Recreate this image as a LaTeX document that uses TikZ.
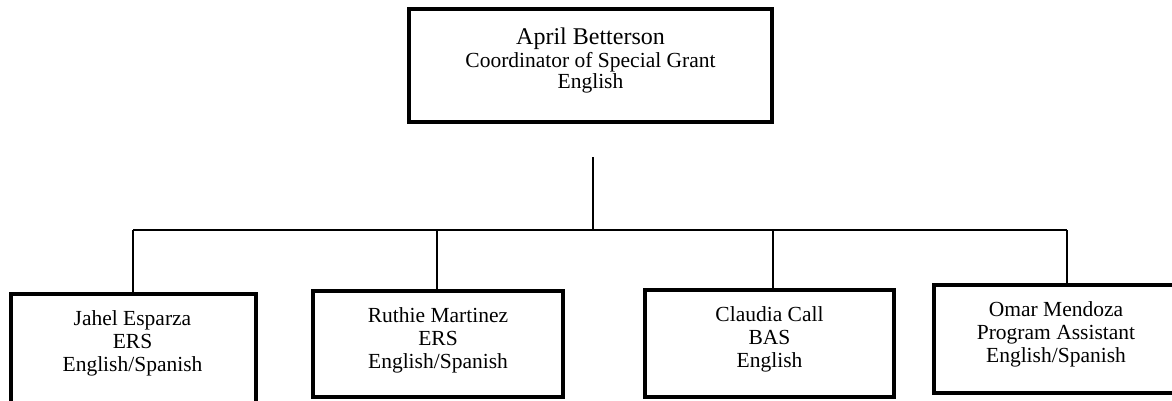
\documentclass[tikz,border=0pt]{standalone}
\usepackage{fontspec}
\setmainfont{Liberation Serif}
\begin{document}
\begin{tikzpicture}[x=1pt,y=-1pt,
  orgbox/.style={draw, line width=4pt, rectangle, inner sep=0pt},
  wire/.style={line width=1.8pt},
  txt/.style={align=center, inner sep=0pt, anchor=north, font=\fontsize{21.5}{23}\selectfont}]
\useasboundingbox (0,0) rectangle (1172,400);
\clip (0,0) rectangle (1172,400);
% boxes
\node[orgbox, minimum width=363pt, minimum height=113pt] (top) at (590.5,65.5) {};
\node[orgbox, minimum width=245pt, minimum height=112pt] (jahel) at (133.5,350) {};
\node[orgbox, minimum width=250pt, minimum height=106pt] (ruthie) at (438,344) {};
\node[orgbox, minimum width=249pt, minimum height=107pt] (claudia) at (769.5,343.5) {};
\node[orgbox, minimum width=244pt, minimum height=108pt] (omar) at (1056,339) {};
% texts
\node[txt] (toptext) at (590.5,28) {{\fontsize{24}{26}\selectfont April Betterson}\\[0pt]Coordinator of Special Grant\\[-2pt]English};
\node[txt] (jtext) at (132.5,310) {Jahel Esparza\\ERS\\English/Spanish};
\node[txt] (rtext) at (438,307) {Ruthie Martinez\\ERS\\English/Spanish};
\node[txt] (ctext) at (769.5,306) {Claudia Call\\BAS\\English};
\node[txt] (otext) at (1056,301) {Omar Mendoza\\Program Assistant\\English/Spanish};
% connectors
\coordinate (stem) at (593,157);
\coordinate (busC) at (593,230);
\coordinate (busL) at (133,230);
\coordinate (busR) at (437,230);
\coordinate (busS) at (773,230);
\coordinate (busE) at (1067,230);
\draw[wire] (stem) -- (busC);
\draw[wire] (busL) -- (busE);
\draw[wire] (busL) -- (busL |- jahel.north);
\draw[wire] (busR) -- (busR |- ruthie.north);
\draw[wire] (busS) -- (busS |- claudia.north);
\draw[wire] (busE) -- (busE |- omar.north);
\end{tikzpicture}
\end{document}
